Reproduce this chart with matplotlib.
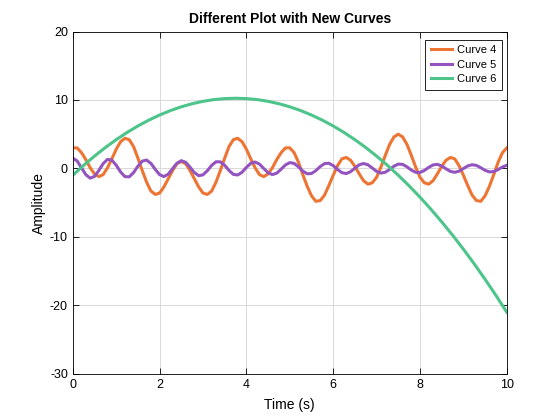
import numpy as np
import matplotlib
matplotlib.use("Agg")
import matplotlib.pyplot as plt

plt.rcParams['font.family'] = ['Liberation Sans', 'DejaVu Sans']
plt.rcParams['axes.unicode_minus'] = False

# sample positions (s) for the two oscillating curves
t = np.linspace(0, 10, 101)

# values, one per 0.1 s
curve4 = [3.0, 3.0, 2.3, 1.3, 0.1, -0.8, -1.2, -0.9, 0.1, 1.4,
          2.8, 3.9, 4.4, 4.2, 3.2, 1.5, -0.3, -2.0, -3.3, -3.8,
          -3.6, -2.7, -1.5, -0.3, 0.7, 1.0, 0.7, -0.3, -1.5, -2.7,
          -3.6, -3.8, -3.3, -2.0, -0.3, 1.5, 3.2, 4.2, 4.4, 3.9,
          2.8, 1.4, 0.1, -0.9, -1.2, -0.8, 0.1, 1.3, 2.3, 3.0,
          3.0, 2.3, 0.9, -0.9, -2.6, -4.0, -4.8, -4.7, -3.9, -2.5,
          -1.0, 0.4, 1.4, 1.6, 1.2, 0.3, -0.8, -1.8, -2.3, -2.1,
          -1.3, 0.2, 1.9, 3.5, 4.6, 5.0, 4.6, 3.5, 1.9, 0.2,
          -1.3, -2.1, -2.3, -1.8, -0.8, 0.3, 1.2, 1.6, 1.4, 0.4,
          -1.0, -2.5, -3.9, -4.7, -4.8, -4.0, -2.6, -0.9, 0.9, 2.3,
          3.0]

curve5 = [1.50, 1.09, 0.10, -0.91, -1.42, -1.17, -0.30, 0.71, 1.32, 1.21,
          0.47, -0.51, -1.20, -1.23, -0.61, 0.32, 1.06, 1.22, 0.73, -0.14,
          -0.91, -1.19, -0.83, -0.03, 0.76, 1.13, 0.90, 0.19, -0.60, -1.06,
          -0.94, -0.33, 0.45, 0.97, 0.96, 0.45, -0.30, -0.87, -0.96, -0.55,
          0.15, 0.75, 0.94, 0.63, -0.01, -0.63, -0.90, -0.69, -0.11, 0.51,
          0.85, 0.73, 0.23, -0.39, -0.78, -0.75, -0.32, 0.27, 0.70, 0.76,
          0.41, -0.15, -0.62, -0.75, -0.48, 0.04, 0.53, 0.72, 0.53, 0.06,
          -0.43, -0.68, -0.56, -0.15, 0.33, 0.63, 0.59, 0.23, -0.24, -0.57,
          -0.59, -0.30, 0.15, 0.51, 0.59, 0.36, -0.06, -0.43, -0.57, -0.40,
          -0.02, 0.36, 0.54, 0.44, 0.10, -0.28, -0.51, -0.46, -0.16, 0.21,
          0.46]

# the smooth arc, every 0.25 s
t6 = np.linspace(0, 10, 41)
curve6 = [-1.0, 0.45, 1.8, 3.05, 4.2, 5.25, 6.2, 7.05, 7.8, 8.45,
          9.0, 9.45, 9.8, 10.05, 10.2, 10.25, 10.2, 10.05, 9.8, 9.45,
          9.0, 8.45, 7.8, 7.05, 6.2, 5.25, 4.2, 3.05, 1.8, 0.45,
          -1.0, -2.55, -4.2, -5.95, -7.8, -9.75, -11.8, -13.95, -16.2, -18.55,
          -21.0]

fig = plt.figure(figsize=(5.6, 4.2), dpi=100)
ax = fig.add_axes([0.13, 0.11, 0.775, 0.815])

ax.plot(t, curve4, color='#ED7432', lw=2.2, label='Curve 4')
ax.plot(t, curve5, color='#9454C0', lw=2.2, label='Curve 5')
ax.plot(t6, curve6, color='#4CC48A', lw=2.2, label='Curve 6')

ax.set_xlim(0, 10)
ax.set_ylim(-30, 20)
ax.set_xticks([0, 2, 4, 6, 8, 10])
ax.set_yticks([-30, -20, -10, 0, 10, 20])
ax.grid(True, color='#d9d9d9', lw=0.7)
ax.set_axisbelow(True)
ax.tick_params(direction='in', top=True, right=True, labelsize=9, length=4, width=0.6)
for sp in ax.spines.values():
    sp.set_linewidth(0.6)

ax.set_title('Different Plot with New Curves', fontsize=10, fontweight='bold')
ax.set_xlabel('Time (s)', fontsize=10, labelpad=5)
ax.set_ylabel('Amplitude', fontsize=10, labelpad=3)

leg = ax.legend(loc='upper right', bbox_to_anchor=(0.988, 0.976), borderaxespad=0,
                fontsize=8, fancybox=False, framealpha=1, edgecolor='black',
                handlelength=1.9, handletextpad=0.45, borderpad=0.5,
                labelspacing=0.4)
leg.get_frame().set_linewidth(0.6)

fig.savefig('out.png', dpi=100)
